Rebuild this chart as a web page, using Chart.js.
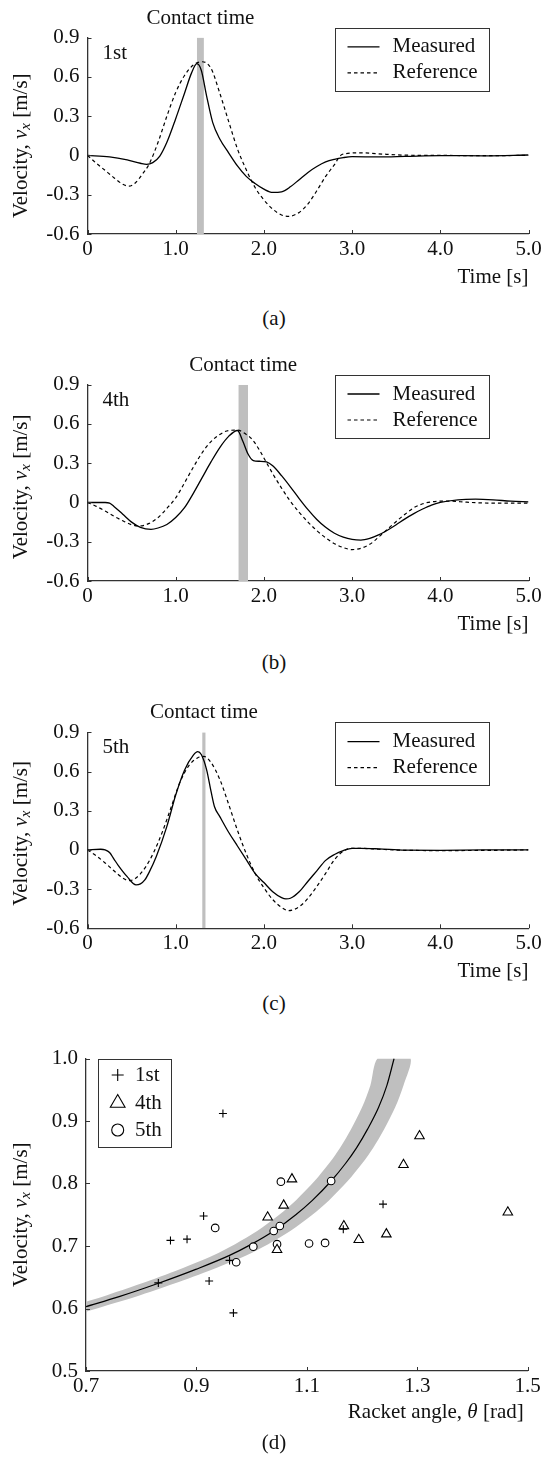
<!DOCTYPE html>
<html>
<head>
<meta charset="utf-8">
<script src="https://cdn.jsdelivr.net/npm/chart.js@4.4.1/dist/chart.umd.min.js"></script>
<style>
  html, body { margin: 0; padding: 0; background: #fff; }
  body { width: 543px; height: 1464px; position: relative; overflow: hidden; font-family: "Liberation Serif", "Times New Roman", serif; }
  canvas { position: absolute; left: 0; }
  .cap { position: absolute; left: 0; width: 548px; text-align: center; font-size: 21px; line-height: 24px; color: #111; }
</style>
</head>
<body>
<canvas id="chartA" width="543" height="300" style="top:0px"></canvas>
<canvas id="chartB" width="543" height="300" style="top:340px"></canvas>
<canvas id="chartC" width="543" height="300" style="top:690px"></canvas>
<canvas id="chartD" width="543" height="410" style="top:1030px"></canvas>
<div class="cap" style="top:306px">(a)</div>
<div class="cap" style="top:650px">(b)</div>
<div class="cap" style="top:991px">(c)</div>
<div class="cap" style="top:1430px">(d)</div>
<script>
const timeTicks = [0, 1, 2, 3, 4, 5];
const timeTickLabels = ['0', '1.0', '2.0', '3.0', '4.0', '5.0'];
const velTicks = [-0.6, -0.3, 0, 0.3, 0.6, 0.9];
const velTickLabels = ['-0.6', '-0.3', '0', '0.3', '0.6', '0.9'];
const seriesNames = ['Measured', 'Reference'];

// (a) 1st trial
const aMeasuredT = [0, 0.25, 0.45, 0.6, 0.67, 0.74, 0.82, 0.9, 1.0, 1.1, 1.18, 1.24, 1.29, 1.35, 1.42, 1.5, 1.6, 1.7, 1.8, 1.9, 2.0, 2.1, 2.2, 2.3, 2.4, 2.5, 2.6, 2.7, 2.8, 2.9, 3.0, 3.3, 3.6, 4.0, 4.5, 5.0];
const aMeasuredV = [0, -0.012, -0.035, -0.06, -0.068, -0.055, -0.005, 0.1, 0.28, 0.475, 0.63, 0.7, 0.65, 0.455, 0.25, 0.125, 0.02, -0.08, -0.16, -0.215, -0.258, -0.283, -0.278, -0.24, -0.185, -0.13, -0.085, -0.05, -0.03, -0.017, -0.01, -0.012, -0.008, -0.002, -0.003, 0.003];
const aReferenceT = [0, 0.1, 0.2, 0.3, 0.4, 0.47, 0.55, 0.62, 0.7, 0.8, 0.9, 1.0, 1.1, 1.2, 1.3, 1.4, 1.5, 1.6, 1.7, 1.8, 1.9, 2.0, 2.1, 2.2, 2.28, 2.4, 2.5, 2.6, 2.7, 2.8, 2.87, 2.95, 3.1, 3.3, 3.6, 4.0, 4.5, 5.0];
const aReferenceV = [0, -0.06, -0.115, -0.17, -0.22, -0.235, -0.205, -0.145, -0.065, 0.1, 0.3, 0.48, 0.61, 0.69, 0.715, 0.665, 0.475, 0.26, 0.05, -0.11, -0.245, -0.34, -0.41, -0.455, -0.465, -0.435, -0.37, -0.27, -0.16, -0.07, 0, 0.015, 0.02, 0.012, 0.002, 0, -0.002, 0];
const aContact = [1.24, 1.32];

// (b) 4th trial
const bMeasuredT = [0, 0.2, 0.25, 0.3, 0.4, 0.5, 0.6, 0.72, 0.8, 0.9, 1.0, 1.1, 1.2, 1.3, 1.4, 1.5, 1.6, 1.7, 1.76, 1.82, 1.88, 1.95, 2.03, 2.1, 2.2, 2.3, 2.4, 2.5, 2.6, 2.7, 2.8, 2.9, 3.0, 3.1, 3.2, 3.3, 3.4, 3.5, 3.6, 3.7, 3.8, 3.9, 4.0, 4.2, 4.4, 4.6, 4.8, 5.0];
const bMeasuredV = [0, 0, -0.005, -0.03, -0.09, -0.15, -0.19, -0.205, -0.195, -0.168, -0.115, -0.04, 0.07, 0.19, 0.31, 0.42, 0.505, 0.55, 0.47, 0.37, 0.32, 0.315, 0.31, 0.28, 0.205, 0.12, 0.03, -0.055, -0.13, -0.19, -0.235, -0.265, -0.282, -0.287, -0.274, -0.248, -0.212, -0.17, -0.125, -0.085, -0.05, -0.02, 0, 0.02, 0.025, 0.02, 0.01, 0.005];
const bReferenceT = [0, 0.1, 0.2, 0.3, 0.4, 0.5, 0.58, 0.7, 0.8, 0.9, 1.0, 1.1, 1.2, 1.3, 1.4, 1.5, 1.6, 1.7, 1.8, 1.87, 1.95, 2.0, 2.1, 2.2, 2.3, 2.4, 2.5, 2.6, 2.7, 2.8, 2.9, 3.0, 3.1, 3.2, 3.3, 3.4, 3.5, 3.6, 3.7, 3.8, 3.9, 4.0, 4.1, 4.3, 4.5, 5.0];
const bReferenceV = [0, -0.03, -0.065, -0.105, -0.14, -0.17, -0.18, -0.16, -0.115, -0.045, 0.035, 0.15, 0.27, 0.38, 0.465, 0.52, 0.55, 0.553, 0.52, 0.48, 0.4, 0.34, 0.22, 0.11, 0.01, -0.075, -0.15, -0.215, -0.27, -0.315, -0.345, -0.36, -0.35, -0.32, -0.265, -0.205, -0.145, -0.09, -0.04, -0.01, 0.005, 0.01, 0.01, 0.002, -0.004, -0.005];
const bContact = [1.71, 1.82];

// (c) 5th trial
const cMeasuredT = [0, 0.15, 0.2, 0.25, 0.3, 0.35, 0.45, 0.55, 0.6, 0.65, 0.7, 0.78, 0.9, 1.0, 1.1, 1.2, 1.25, 1.29, 1.35, 1.4, 1.44, 1.5, 1.6, 1.7, 1.8, 1.9, 2.0, 2.1, 2.2, 2.25, 2.3, 2.4, 2.5, 2.6, 2.7, 2.8, 2.9, 3.0, 3.1, 3.3, 3.6, 4.0, 4.5, 5.0];
const cMeasuredV = [0, 0.005, 0, -0.02, -0.07, -0.12, -0.205, -0.268, -0.26, -0.23, -0.17, -0.05, 0.18, 0.42, 0.61, 0.725, 0.752, 0.73, 0.615, 0.45, 0.33, 0.255, 0.135, 0.03, -0.075, -0.18, -0.25, -0.32, -0.365, -0.375, -0.37, -0.32, -0.24, -0.16, -0.08, -0.035, -0.005, 0.012, 0.012, 0.008, -0.002, -0.003, 0, 0];
const cReferenceT = [0, 0.1, 0.2, 0.3, 0.4, 0.47, 0.55, 0.65, 0.75, 0.85, 0.95, 1.05, 1.15, 1.25, 1.32, 1.4, 1.5, 1.6, 1.7, 1.8, 1.9, 2.0, 2.1, 2.2, 2.28, 2.4, 2.5, 2.6, 2.7, 2.8, 2.9, 3.0, 3.1, 3.3, 3.6, 4.0, 4.5, 5.0];
const cReferenceV = [0, -0.045, -0.1, -0.16, -0.215, -0.235, -0.215, -0.14, -0.02, 0.14, 0.33, 0.52, 0.645, 0.705, 0.715, 0.67, 0.54, 0.35, 0.15, -0.03, -0.18, -0.29, -0.38, -0.44, -0.465, -0.435, -0.37, -0.28, -0.18, -0.075, -0.01, 0.012, 0.012, 0.005, -0.003, -0.005, -0.004, 0];
const cContact = [1.30, 1.34];

// (d) velocity vs racket angle
const angleTicks = [0.7, 0.9, 1.1, 1.3, 1.5];
const angleTickLabels = ['0.7', '0.9', '1.1', '1.3', '1.5'];
const speedTicks = [0.5, 0.6, 0.7, 0.8, 0.9, 1.0];
const speedTickLabels = ['0.5', '0.6', '0.7', '0.8', '0.9', '1.0'];
const trialNames = ['1st', '4th', '5th'];
const firstAngle = [0.831, 0.853, 0.883, 0.913, 0.923, 0.948, 0.960, 0.967, 1.166, 1.238];
const firstSpeed = [0.641, 0.709, 0.711, 0.748, 0.644, 0.912, 0.677, 0.593, 0.727, 0.767];
const fourthAngle = [1.029, 1.046, 1.058, 1.073, 1.167, 1.194, 1.244, 1.275, 1.304, 1.464];
const fourthSpeed = [0.746, 0.694, 0.765, 0.807, 0.732, 0.710, 0.719, 0.830, 0.876, 0.754];
const fifthAngle = [0.934, 0.972, 1.003, 1.040, 1.046, 1.051, 1.053, 1.104, 1.133, 1.144];
const fifthSpeed = [0.729, 0.674, 0.699, 0.724, 0.703, 0.732, 0.803, 0.704, 0.705, 0.804];
const fitAngle = [0.70, 0.76, 0.83, 0.90, 0.96, 1.00, 1.04, 1.08, 1.11, 1.144, 1.17, 1.19, 1.21, 1.23, 1.245, 1.258];
const fitSpeed = [0.603, 0.619, 0.640, 0.663, 0.685, 0.703, 0.724, 0.750, 0.773, 0.804, 0.832, 0.857, 0.887, 0.922, 0.957, 1.0];
const bandUpperAngle = [0.70, 0.73, 0.80, 0.87, 0.93, 0.97, 1.01, 1.05, 1.08, 1.114, 1.14, 1.16, 1.18, 1.20, 1.215, 1.228];
const bandUpperSpeed = [0.611, 0.619, 0.640, 0.663, 0.685, 0.703, 0.724, 0.750, 0.773, 0.804, 0.832, 0.857, 0.887, 0.922, 0.957, 1.0];
const bandLowerAngle = [0.70, 0.73, 0.79, 0.86, 0.93, 0.99, 1.03, 1.07, 1.11, 1.14, 1.174, 1.20, 1.22, 1.24, 1.26, 1.275, 1.288];
const bandLowerSpeed = [0.595, 0.603, 0.619, 0.640, 0.663, 0.685, 0.703, 0.724, 0.750, 0.773, 0.804, 0.832, 0.857, 0.887, 0.922, 0.957, 1.0];

const FONT = '"Liberation Serif", "Times New Roman", serif';
const INK = '#111';
const AXIS = '#333';
const GREY = '#bfbfbf';

function pts(xs, ys) {
  return xs.map((x, i) => ({ x: x, y: ys[i] }));
}

function font(size, italic) {
  return (italic ? 'italic ' : '') + size + 'px ' + FONT;
}

function drawParts(ctx, parts, x, y, align) {
  let total = 0;
  parts.forEach(p => {
    ctx.font = font(p.sub ? 15 : 21, p.italic);
    p.w = ctx.measureText(p.text).width;
    total += p.w;
  });
  let cx = align === 'right' ? x - total : align === 'center' ? x - total / 2 : x;
  ctx.textAlign = 'left';
  ctx.textBaseline = 'middle';
  ctx.fillStyle = INK;
  parts.forEach(p => {
    ctx.font = font(p.sub ? 15 : 21, p.italic);
    ctx.fillText(p.text, cx, y + (p.sub ? 5 : 0));
    cx += p.w;
  });
}

function velocityTitle(ctx, cy) {
  ctx.save();
  ctx.translate(21, cy);
  ctx.rotate(-Math.PI / 2);
  drawParts(ctx, [{ text: 'Velocity, ' }, { text: 'v', italic: true }, { text: 'x', italic: true, sub: true }, { text: ' [m/s]' }], 0, 0, 'center');
  ctx.restore();
}

function innerTicks(chart) {
  const { ctx, chartArea: a, scales: { x, y } } = chart;
  ctx.save();
  ctx.strokeStyle = AXIS;
  ctx.lineWidth = 1;
  ctx.beginPath();
  x.ticks.forEach(t => {
    const p = Math.round(x.getPixelForValue(t.value)) + 0.5;
    ctx.moveTo(p, a.bottom);
    ctx.lineTo(p, a.bottom - 4);
  });
  y.ticks.forEach(t => {
    const p = Math.round(y.getPixelForValue(t.value)) + 0.5;
    ctx.moveTo(a.left, p);
    ctx.lineTo(a.left + 4, p);
  });
  ctx.stroke();
  ctx.restore();
}

function axisOptions(min, max, ticks, labels, size, horizontal) {
  return {
    type: 'linear',
    min: min,
    max: max,
    afterBuildTicks: s => { s.ticks = ticks.map(v => ({ value: v })); },
    afterFit: s => {
      if (horizontal) s.height = size; else s.width = size;
      s.paddingLeft = 0; s.paddingRight = 0; s.paddingTop = 0; s.paddingBottom = 0;
    },
    grid: { display: false, drawTicks: false },
    border: { display: true, color: AXIS, width: 1.3 },
    ticks: {
      autoSkip: false,
      maxRotation: 0,
      padding: horizontal ? 3 : 8,
      color: INK,
      font: { family: FONT, size: 21 },
      callback: (v, i) => labels[i]
    }
  };
}

function timeDecor(trial, contact, titleShift) {
  return {
    id: 'timeDecor',
    afterDraw(chart) {
      const { ctx, chartArea: a, scales: { x } } = chart;
      innerTicks(chart);
      ctx.save();
      ctx.fillStyle = INK;
      ctx.font = font(21);
      ctx.textBaseline = 'middle';
      ctx.textAlign = 'center';
      ctx.fillText('Contact time', x.getPixelForValue((contact[0] + contact[1]) / 2), a.top - 19.5);
      ctx.textAlign = 'left';
      ctx.fillText(trial, a.left + 15, a.top + 15.5);

      const lx = Math.round(a.right - 194) + 0.5, ly = Math.round(a.top - 10) + 0.5;
      ctx.fillStyle = '#fff';
      ctx.fillRect(lx, ly, 154, 63);
      ctx.strokeStyle = AXIS;
      ctx.lineWidth = 1;
      ctx.strokeRect(lx, ly, 154, 63);
      chart.data.datasets.slice(0, 2).forEach((ds, i) => {
        const yy = a.top + 9.3 + i * 26;
        ctx.setLineDash(ds.borderDash || []);
        ctx.lineWidth = ds.borderWidth;
        ctx.strokeStyle = ds.borderColor;
        ctx.beginPath();
        ctx.moveTo(lx + 12, yy);
        ctx.lineTo(lx + 44, yy);
        ctx.stroke();
        ctx.setLineDash([]);
        ctx.fillStyle = INK;
        ctx.font = font(21);
        ctx.textAlign = 'left';
        ctx.fillText(ds.label, lx + 57, yy);
      });

      velocityTitle(ctx, (a.top + a.bottom) / 2 + titleShift);
      drawParts(ctx, [{ text: 'Time [s]' }], a.right, a.bottom + 43, 'right');
      ctx.restore();
    }
  };
}

function makeTimePanel(id, trial, measT, measV, refT, refV, contact, padTop, xHeight, titleShift) {
  const top = velTicks[velTicks.length - 1];
  return new Chart(document.getElementById(id), {
    type: 'scatter',
    data: {
      datasets: [
        { label: seriesNames[0], data: pts(measT, measV), showLine: true, borderColor: '#000', borderWidth: 1.3, pointRadius: 0, cubicInterpolationMode: 'monotone' },
        { label: seriesNames[1], data: pts(refT, refV), showLine: true, borderColor: '#000', borderWidth: 1.2, borderDash: [3.5, 3], pointRadius: 0, cubicInterpolationMode: 'monotone' },
        { label: 'Contact time', data: [{ x: contact[0], y: top }, { x: contact[1], y: top }], showLine: true, borderWidth: 0, borderColor: 'transparent', pointRadius: 0, fill: 'start', backgroundColor: GREY }
      ]
    },
    options: {
      responsive: false,
      animation: false,
      events: [],
      layout: { padding: { top: padTop, right: 14.5, left: 0, bottom: 0 } },
      plugins: { legend: { display: false }, tooltip: { enabled: false } },
      scales: {
        x: axisOptions(0, 5, timeTicks, timeTickLabels, xHeight, true),
        y: axisOptions(-0.6, 0.9, velTicks, velTickLabels, 87.5, false)
      }
    },
    plugins: [timeDecor(trial, contact, titleShift)]
  });
}

makeTimePanel('chartA', '1st', aMeasuredT, aMeasuredV, aReferenceT, aReferenceV, aContact, 37.5, 66, 10);
makeTimePanel('chartB', '4th', bMeasuredT, bMeasuredV, bReferenceT, bReferenceV, bContact, 44.7, 59, 4);
makeTimePanel('chartC', '5th', cMeasuredT, cMeasuredV, cReferenceT, cReferenceV, cContact, 42.3, 61.7, 3);

function legendMarker(ctx, style, x, y) {
  ctx.save();
  ctx.strokeStyle = '#000';
  ctx.fillStyle = '#fff';
  ctx.lineWidth = 1.1;
  ctx.beginPath();
  if (style === 'cross') {
    ctx.moveTo(x - 6, y); ctx.lineTo(x + 6, y);
    ctx.moveTo(x, y - 6); ctx.lineTo(x, y + 6);
  } else if (style === 'triangle') {
    const r = 8.5;
    ctx.moveTo(x, y - r);
    ctx.lineTo(x + 0.866 * r, y + 0.5 * r);
    ctx.lineTo(x - 0.866 * r, y + 0.5 * r);
    ctx.closePath();
    ctx.fill();
  } else {
    ctx.arc(x, y, 6, 0, Math.PI * 2);
    ctx.fill();
  }
  ctx.stroke();
  ctx.restore();
}

const scatterDecor = {
  id: 'scatterDecor',
  afterDraw(chart) {
    const { ctx, chartArea: a } = chart;
    innerTicks(chart);
    ctx.save();
    const lx = Math.round(a.left + 12.3) + 0.5, ly = Math.round(a.top) + 0.5;
    ctx.fillStyle = '#fff';
    ctx.fillRect(lx, ly, 73, 88);
    ctx.strokeStyle = AXIS;
    ctx.lineWidth = 1;
    ctx.strokeRect(lx, ly, 73, 88);
    const rows = [16.5, 44.5, 71.5];
    chart.data.datasets.slice(0, 3).forEach((ds, i) => {
      const yy = a.top + rows[i];
      legendMarker(ctx, ds.pointStyle, a.left + 31.7, yy);
      ctx.fillStyle = INK;
      ctx.font = font(21);
      ctx.textAlign = 'left';
      ctx.textBaseline = 'middle';
      ctx.fillText(ds.label, a.left + 49, yy);
    });
    velocityTitle(ctx, (a.top + a.bottom) / 2);
    drawParts(ctx, [{ text: 'Racket angle, ' }, { text: 'θ', italic: true }, { text: ' [rad]' }], a.right - 4, a.bottom + 41.7, 'right');
    ctx.restore();
  }
};

// closed outline of the grey band: upper edge forward, joined at the top, lower edge back
const bandPolygon = pts(bandUpperAngle, bandUpperSpeed)
  .concat([{ x: fitAngle[fitAngle.length - 1], y: fitSpeed[fitSpeed.length - 1] }])
  .concat(pts(bandLowerAngle, bandLowerSpeed).reverse());

new Chart(document.getElementById('chartD'), {
  type: 'scatter',
  data: {
    datasets: [
      { label: trialNames[0], data: pts(firstAngle, firstSpeed), pointStyle: 'cross', pointRadius: 4, borderColor: '#000', borderWidth: 1.1 },
      { label: trialNames[1], data: pts(fourthAngle, fourthSpeed), pointStyle: 'triangle', pointRadius: 5.5, borderColor: '#000', backgroundColor: '#fff', borderWidth: 1.1 },
      { label: trialNames[2], data: pts(fifthAngle, fifthSpeed), pointStyle: 'circle', pointRadius: 3.8, borderColor: '#000', backgroundColor: '#fff', borderWidth: 1.1 },
      { label: 'fit', data: pts(fitAngle, fitSpeed), showLine: true, borderColor: '#000', borderWidth: 1.2, pointRadius: 0, cubicInterpolationMode: 'monotone' },
      { label: 'band', data: bandPolygon, showLine: true, borderWidth: 0, borderColor: 'transparent', pointRadius: 0, tension: 0.3, fill: 'shape', backgroundColor: GREY }
    ]
  },
  options: {
    responsive: false,
    animation: false,
    events: [],
    layout: { padding: { top: 28.5, right: 15.3, left: 0, bottom: 0 } },
    plugins: { legend: { display: false }, tooltip: { enabled: false } },
    scales: {
      x: axisOptions(0.7, 1.5, angleTicks, angleTickLabels, 69, true),
      y: axisOptions(0.5, 1.0, speedTicks, speedTickLabels, 86, false)
    }
  },
  plugins: [scatterDecor]
});
</script>
</body>
</html>
